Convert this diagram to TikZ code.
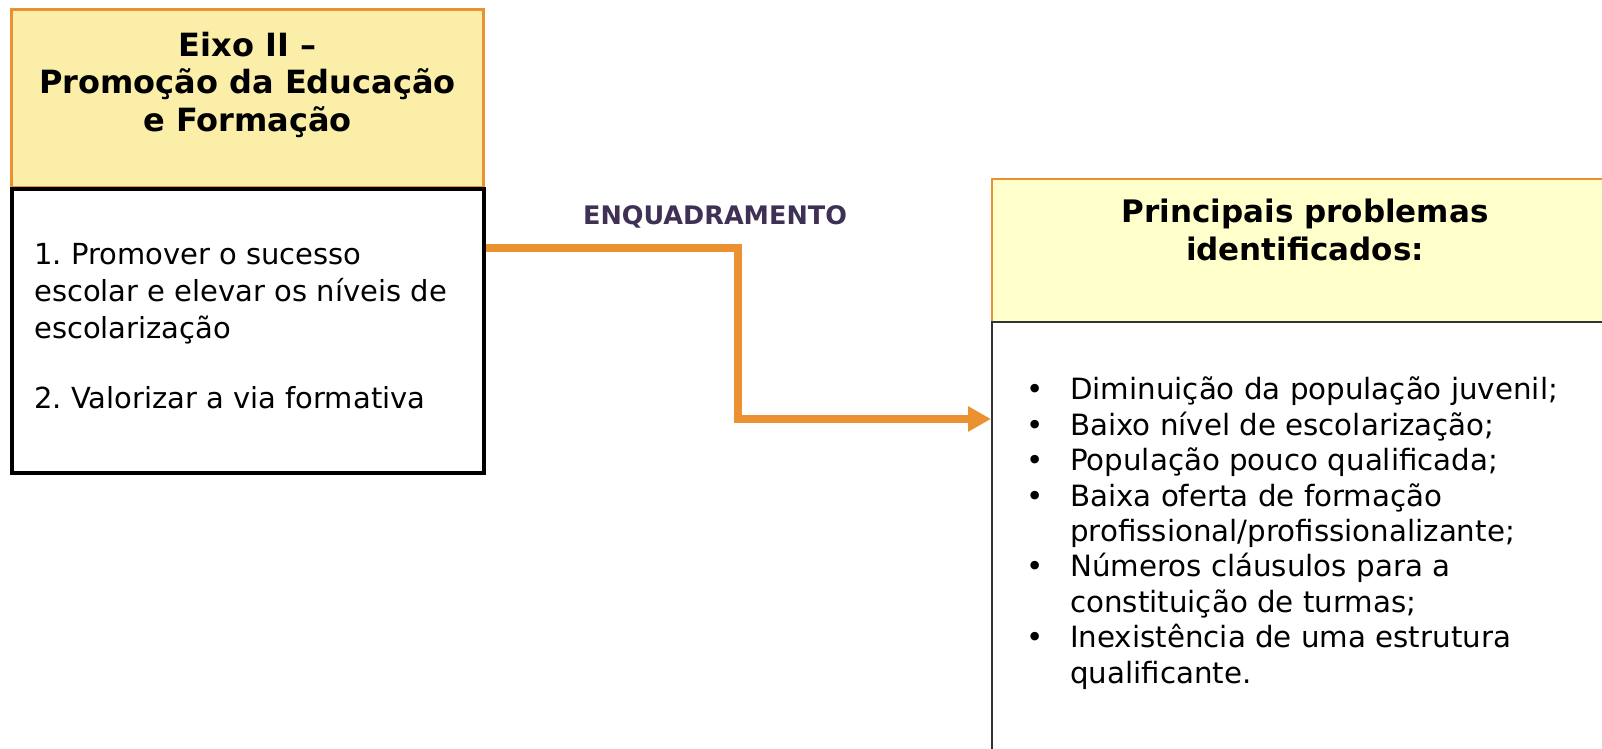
\documentclass[tikz,border=0pt]{standalone}
\usepackage{fontspec}
\setmainfont{DejaVu Sans}
\usetikzlibrary{arrows.meta}

\definecolor{eixoyellow}{HTML}{FAEEA8}
\definecolor{probyellow}{HTML}{FFFFCC}
\definecolor{floworange}{HTML}{EB9130}
\definecolor{labelpurple}{HTML}{3F3055}
\definecolor{bodygray}{HTML}{333333}

\newcommand{\probbullet}{\makebox[43.5pt][l]{•}}
\newcommand{\probcont}{\hspace*{43.5pt}}

\begin{document}
\frenchspacing
\begin{tikzpicture}[x=1pt,y=-1pt]
    \tikzstyle{every node}=[inner sep=0pt]
    \tikzstyle{headbox}=[draw=floworange,anchor=north west]
    \tikzstyle{bodybox}=[draw,fill=white,anchor=north west]
    \tikzstyle{headtext}=[font=\fontsize{32}{37.5}\selectfont\bfseries,align=center]
    \tikzstyle{bodytext}=[font=\fontsize{29}{37.3}\selectfont,align=left,anchor=north west]
    \tikzstyle{flow}=[draw=floworange,line width=8pt,-{Triangle[length=23pt,width=24pt]}]

    \useasboundingbox (0,0) rectangle (1602,748);
    \clip (0,0) rectangle (1602,748);

    % Eixo II
    \node[headbox,fill=eixoyellow,line width=3pt,minimum width=472pt,minimum height=178pt] (eixohead) at (10,8) {};
    \node[bodybox,line width=4pt,minimum width=472pt,minimum height=284pt] (eixobody) at (10,187) {};
    \node[headtext] (eixotitle) at (247.5,84.5) {Eixo II --\\Promoção da Educação\\e Formação};
    \node[bodytext] (eixogoals) at (34,243) {1. Promover o sucesso\\escolar e elevar os níveis de\\escolarização\\[32pt]2. Valorizar a via formativa};

    % problemas
    \node[headbox,fill=probyellow,line width=2pt,minimum width=700pt,minimum height=143pt] (probhead) at (991,178) {};
    \node[bodybox,draw=bodygray,line width=2pt,minimum width=700pt,minimum height=500pt] (probbody) at (991,321) {};
    \node[headtext,font=\fontsize{31}{38.5}\selectfont\bfseries] (probtitle) at (1305,230) {Principais problemas\\identificados:};
    \node[bodytext,font=\fontsize{29.3}{35.4}\selectfont] (problist) at (1026.5,377) {%
        \probbullet Diminuição da população juvenil;\\
        \probbullet Baixo nível de escolarização;\\
        \probbullet População pouco qualificada;\\
        \probbullet Baixa oferta de formação\\
        \probcont profissional/profissionalizante;\\
        \probbullet Números cláusulos para a\\
        \probcont constituição de turmas;\\
        \probbullet Inexistência de uma estrutura\\
        \probcont qualificante.};

    % enquadramento
    \node[font=\fontsize{25.5}{30}\selectfont\bfseries,text=labelpurple] (framelabel) at (715,217) {ENQUADRAMENTO};
    \coordinate (flowtop) at (737.5,248);
    \coordinate (flowbot) at (737.5,419);
    \draw[flow] (eixobody.east |- flowtop) -- (flowtop) -- (flowbot) -- (probbody.west |- flowbot);

\end{tikzpicture}
\end{document}
